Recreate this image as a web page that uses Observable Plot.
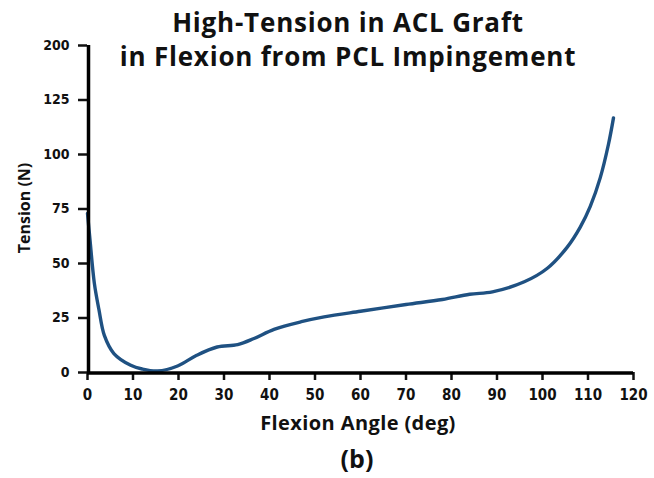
<!DOCTYPE html>
<html>
<head>
<meta charset="utf-8">
<script src="https://cdn.jsdelivr.net/npm/d3@7"></script>
<script src="https://cdn.jsdelivr.net/npm/@observablehq/plot@0.6"></script>
<style>
  html, body { margin: 0; padding: 0; background: #fff; }
  #wrap { position: relative; width: 654px; height: 478px; overflow: hidden; }
  .lbl { position: absolute; font-family: "Open Sans", "DejaVu Sans", sans-serif; font-weight: 700; color: #111; white-space: nowrap; }
  #title { left: 0; width: 696px; top: 5px; text-align: center; font-size: 26px; line-height: 34px; letter-spacing: 0.8px; }
  #xlabel { left: 0; width: 716px; top: 409px; text-align: center; font-size: 20px; letter-spacing: 0.4px; }
  #caption { left: 0; width: 714px; top: 441px; text-align: center; font-size: 25px; }
  #ylabel { left: 24px; top: 208px; font-size: 16px; transform: translate(-50%, -50%) rotate(-90deg); }
</style>
</head>
<body>
<div id="wrap">
  <div id="chart"></div>
  <div class="lbl" id="title">High-Tension in ACL Graft<br>in Flexion from PCL Impingement</div>
  <div class="lbl" id="xlabel">Flexion Angle (deg)</div>
  <div class="lbl" id="caption">(b)</div>
  <div class="lbl" id="ylabel">Tension (N)</div>
</div>
<script>
const angle   = [0, 0.5, 1.5, 2.5, 3.7, 5.8, 9.5, 12, 15.4, 19.8, 24, 28.5, 33, 36.6, 41, 47, 52, 60, 70, 78, 84, 89, 96, 101, 105.4, 108.3, 110.5, 112.7, 114.5, 115.6];
const tension = [73, 62, 41, 29, 17, 8.7, 3.3, 1.6, 0.7, 3.0, 7.9, 11.7, 12.8, 15.6, 19.8, 23.3, 25.5, 28.1, 31.2, 33.5, 35.9, 37, 41.6, 47.7, 57.4, 66.7, 76.2, 89.4, 104.7, 116.8];

const xTicks = [0, 10, 20, 30, 40, 50, 60, 70, 80, 90, 100, 110, 120];
const yTicks = [0, 25, 50, 75, 100, 125, 150];
const yTickLabels = ["0", "25", "50", "75", "100", "125", "200"];

const data = angle.map((a, i) => ({angle: a, tension: tension[i]}));
const yLabelMap = new Map(yTicks.map((t, i) => [t, yTickLabels[i]]));
const tickFont = '"Liberation Sans Narrow", "DejaVu Sans Condensed", sans-serif';

const chart = Plot.plot({
  width: 654,
  height: 478,
  marginLeft: 87,
  marginRight: 21,
  marginTop: 45,
  marginBottom: 106,
  style: {background: "transparent", color: "#111"},
  x: {domain: [0, 120]},
  y: {domain: [0, 150]},
  marks: [
    Plot.axisY({ticks: yTicks, tickFormat: d => yLabelMap.get(d), tickSize: 9, tickPadding: 9,
      fontSize: 14, fontWeight: "bold", fontFamily: tickFont, strokeWidth: 2.5, label: null}),
    Plot.axisX({ticks: xTicks, tickSize: 8, tickPadding: 9,
      fontSize: 15, fontWeight: "bold", fontFamily: tickFont, strokeWidth: 2.5, label: null}),
    Plot.line(data, {x: "angle", y: "tension", curve: "catmull-rom", stroke: "#1f5182", strokeWidth: 3.4}),
    Plot.ruleX([0], {stroke: "#000", strokeWidth: 3.5, dx: 1}),
    Plot.ruleY([0], {stroke: "#000", strokeWidth: 3.5, dy: 0.5})
  ]
});
document.getElementById("chart").appendChild(chart);
</script>
</body>
</html>
